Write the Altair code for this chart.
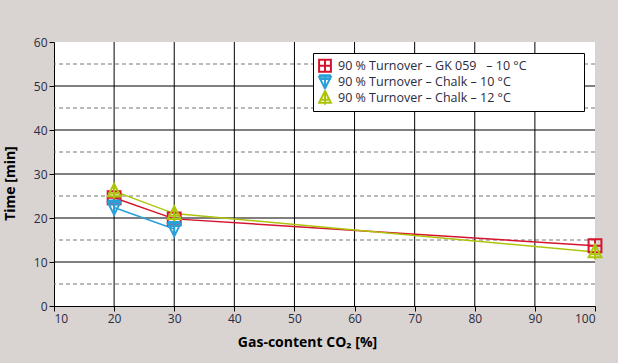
import altair as alt
import pandas as pd

NB = "\u00a0"
series_names = ["90 % Turnover – GK 059" + NB * 3 + "– 10 °C" + NB * 16 + "\u200b",
                "90 % Turnover – Chalk – 10 °C",
                "90 % Turnover – Chalk – 12 °C"]
gk_x = [20, 30, 100]
gk_y = [24.6, 19.8, 13.7]
c10_x = [20, 30]
c10_y = [22.4, 17.5]
c12_x = [20, 30, 100]
c12_y = [26.1, 21.0, 12.3]

x_ticks = [10, 20, 30, 40, 50, 60, 70, 80, 90, 100]
y_ticks = [0, 5, 10, 15, 20, 25, 30, 35, 40, 45, 50, 55, 60]
x_grid = [20, 30, 40, 50, 60, 70, 80, 90]
y_major_grid = [10, 20, 30, 40, 50]
y_minor_grid = [5, 15, 25, 35, 45, 55]

colors = ["#d5142e", "#2a9fd8", "#aec40c"]
shapes = [
    "M-1,-1H1V1H-1Z M-1,0H1 M0,-1V1",
    "M-1,-0.85L0,1.15L1,-0.85Z M-1,-1.1H1 M-1,-0.45H1 M0,-1.1V1.15",
    "M0,-1.15L1,0.85L-1,0.85Z M-0.9,0.35H0.9 M-1,0.85H1 M0,-1.15V1.2",
]

rows = []
for name, xs_, ys_ in zip(series_names, [gk_x, c10_x, c12_x], [gk_y, c10_y, c12_y]):
    for xv, yv in zip(xs_, ys_):
        rows.append({"series": name, "x": xv, "y": yv})
df = pd.DataFrame(rows)

xs = alt.Scale(domain=[10, 100], nice=False)
ys = alt.Scale(domain=[0, 60], nice=False)
FONT = "Open Sans"
TXT = "#2a2a40"

leg = alt.Legend(title=None, orient="none", legendX=259, legendY=11,
                 strokeColor="black", fillColor="white",
                 padding=5, labelFont=FONT, labelFontSize=12.5,
                 labelColor=TXT, symbolStrokeWidth=2, clipHeight=15.5,
                 symbolSize=140, rowPadding=0, labelLimit=400, labelOffset=6)
cscale = alt.Scale(domain=series_names, range=colors)
sscale = alt.Scale(domain=series_names, range=shapes)

ygrid_major = alt.Chart(pd.DataFrame({"v": y_major_grid})).mark_rule(
    color="black", strokeWidth=1).encode(y=alt.Y("v:Q", scale=ys))
ygrid_minor = alt.Chart(pd.DataFrame({"v": y_minor_grid})).mark_rule(
    color="#777777", strokeWidth=1, strokeDash=[4, 3]).encode(y=alt.Y("v:Q", scale=ys))
xgrid = alt.Chart(pd.DataFrame({"v": x_grid})).mark_rule(
    color="black", strokeWidth=1).encode(x=alt.X("v:Q", scale=xs))

axes = alt.Chart(pd.DataFrame({"x": [10], "y": [0]})).mark_point(opacity=0).encode(
    x=alt.X("x:Q", scale=xs, title="Gas-content CO₂ [%]",
            axis=alt.Axis(values=x_ticks, grid=False, domainColor="black", tickColor="black",
                          tickSize=5, labelFont=FONT, labelFontSize=12, labelColor=TXT,
                          titleFont=FONT, titleFontSize=14, titleFontWeight="bold",
                          titleColor="black", titleX=253, titleY=36,
                          titleBaseline="middle", titleAlign="center", labelPadding=2)),
    y=alt.Y("y:Q", scale=ys, title="Time [min]",
            axis=alt.Axis(values=y_ticks, grid=False, domainColor="black", tickColor="black",
                          tickSize=5, labelFont=FONT, labelFontSize=12, labelColor=TXT,
                          labelExpr="datum.value % 10 == 0 ? datum.label : ''",
                          titleFont=FONT, titleFontSize=14, titleFontWeight="bold",
                          titleColor="black", titleX=-44, titleY=141, titleAngle=-90,
                          titleBaseline="middle", titleAlign="center", labelPadding=2)),
)

lines = alt.Chart(df).mark_line(strokeWidth=1.5).encode(
    x=alt.X("x:Q", scale=xs), y=alt.Y("y:Q", scale=ys),
    color=alt.Color("series:N", scale=cscale, legend=leg),
    detail="series:N")

points = alt.Chart(df).mark_point(filled=False, strokeWidth=2, size=165, opacity=1).encode(
    x=alt.X("x:Q", scale=xs), y=alt.Y("y:Q", scale=ys),
    color=alt.Color("series:N", scale=cscale, legend=leg),
    shape=alt.Shape("series:N", scale=sscale, legend=leg))

chart = alt.layer(ygrid_minor, ygrid_major, xgrid, axes, lines, points).properties(
    width=541, height=264, background="#d9d4d1",
    autosize=alt.AutoSizeParams(type="none"),
    padding={"left": 54, "top": 42, "right": 23, "bottom": 57},
).configure_view(fill="white", stroke=None)

chart.save("out.html", embed_options={"renderer": "svg", "actions": False})
